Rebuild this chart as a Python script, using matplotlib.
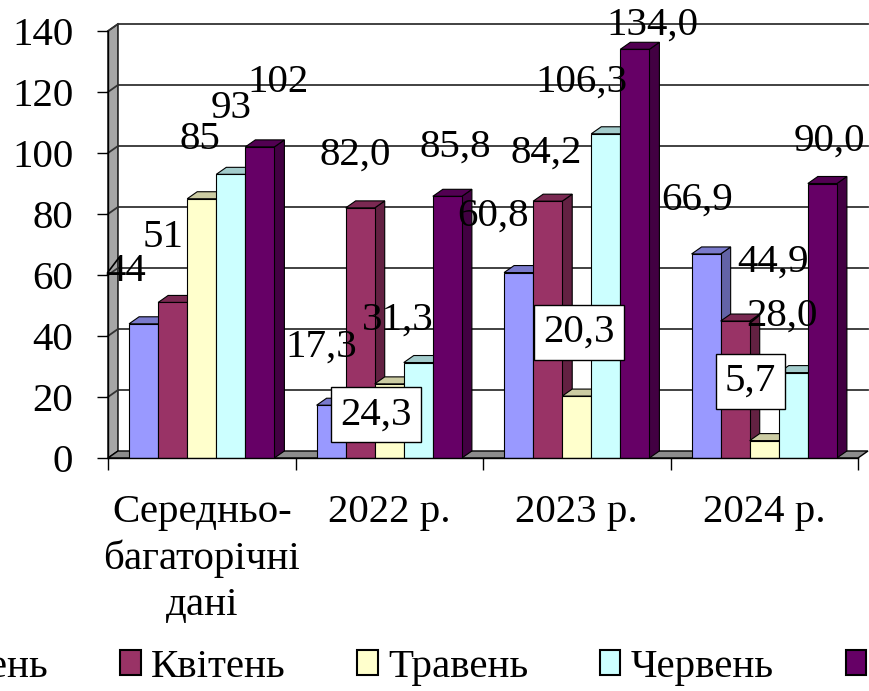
import matplotlib.pyplot as plt
from matplotlib.patches import Polygon, Patch
import matplotlib.colors as mcolors
import numpy as np

plt.rcParams['font.family'] = ['Liberation Serif', 'DejaVu Serif']

categories = ["Середньо-\nбагаторічні\nдані", "2022 р.", "2023 р.", "2024 р."]
months = ["Березень", "Квітень", "Травень", "Червень", "Липень"]
berezen = [44, 17.3, 60.8, 66.9]
kviten = [51, 82.0, 84.2, 44.9]
traven = [85, 24.3, 20.3, 5.7]
cherven = [93, 31.3, 106.3, 28.0]
lypen = [102, 85.8, 134.0, 90.0]
series = [berezen, kviten, traven, cherven, lypen]
decimals = [0, 1, 1, 1]  # long-term mean given as integers
yticks = [0, 20, 40, 60, 80, 100, 120, 140]

colors = ["#9999FF", "#993366", "#FFFFCC", "#CCFFFF", "#660066"]

# label placement (pixel offsets from top of front face), per series / category
label_off = [
    [(-18, 52), (-10, 58), (-26, 56), (-9, 54)],
    [(-10, 65), (-5, 53), (-2, 48), (38, 59)],
    [(-2, 59), (-13, -31), (2, 64), (-14, 59)],
    [(0, 66), (-20, 42), (-24, 52), (-11, 56)],
    [(18, 64), (8, 49), (17, 24), (7, 42)],
]
boxed = {(2, 1), (2, 2), (2, 3)}

FS = 29.5
W = 0.155      # bar width (category units)
DX = 0.0533    # 3d depth in x (data units)
DY = 2.3       # 3d depth in y (data units)


def shade(c, f):
    r, g, b = mcolors.to_rgb(c)
    return (r * f, g * f, b * f)


fig = plt.figure(figsize=(8.69, 6.91), dpi=100)
ax = fig.add_axes([108 / 869, 233 / 691, 750 / 869, 427 / 691])
ax.set_xlim(-0.5, 3.5)
ax.set_ylim(0, 140)
ax.set_facecolor('none')

# walls and floor
ax.add_patch(Polygon([(-0.5, 0), (-0.5 + DX, DY), (-0.5 + DX, 140 + DY), (-0.5, 140)],
                     closed=True, fc="#a6a6a6", ec="black", lw=1, clip_on=False, zorder=0.5))
ax.add_patch(Polygon([(-0.5, 0), (3.5, 0), (3.5 + DX, DY), (-0.5 + DX, DY)],
                     closed=True, fc="#8c8c8c", ec="black", lw=1, clip_on=False, zorder=0.6))
for v in yticks[1:]:
    ax.plot([-0.5 + DX, 3.5 + DX], [v + DY, v + DY], color="#333333", lw=1.3,
            clip_on=False, zorder=0.4)
    ax.plot([-0.5, -0.5 + DX], [v, v + DY], color="#333333", lw=1.3,
            clip_on=False, zorder=0.7)

x = np.arange(len(categories))
z = 2
for i, vals in enumerate(series):
    xs = x + (i - 2) * W
    col = colors[i]
    for xc, v in zip(xs, vals):
        x0, x1 = xc - W / 2, xc + W / 2
        ax.add_patch(Polygon([(x1, 0), (x1 + DX, DY), (x1 + DX, v + DY), (x1, v)],
                             closed=True, fc=shade(col, 0.65), ec="black", lw=0.8, zorder=z))
        ax.add_patch(Polygon([(x0, v), (x1, v), (x1 + DX, v + DY), (x0 + DX, v + DY)],
                             closed=True, fc=shade(col, 0.8), ec="black", lw=0.8, zorder=z))
    ax.bar(xs, vals, width=W, color=col, edgecolor="black", lw=0.8, zorder=z + 0.5)
    z += 1

# data labels
for i, vals in enumerate(series):
    xs = x + (i - 2) * W
    for j, (xc, v) in enumerate(zip(xs, vals)):
        txt = f"{v:.{decimals[j]}f}".replace(".", ",")
        bb = None
        if (i, j) in boxed:
            bb = dict(boxstyle="square,pad=0.22", fc="white", ec="black", lw=1)
        ax.annotate(txt, xy=(xc, v), xytext=label_off[i][j], textcoords="offset pixels",
                    ha="center", va="center", fontsize=FS, zorder=20, bbox=bb,
                    annotation_clip=False)

for s in ["top", "right"]:
    ax.spines[s].set_visible(False)
for s in ["left", "bottom"]:
    ax.spines[s].set_color("black")
    ax.spines[s].set_linewidth(1)
    ax.spines[s].set_zorder(30)

ax.set_yticks(yticks)
ax.tick_params(axis="y", length=8, width=1, pad=17, labelsize=FS)
ax.set_xticks(x, categories)
ax.set_xticks([-0.5, 0.5, 1.5, 2.5, 3.5], minor=True)
ax.tick_params(axis="x", which="major", length=0, pad=26, labelsize=FS)
ax.tick_params(axis="x", which="minor", length=8.6, width=1)
for lbl in ax.get_xticklabels():
    lbl.set_linespacing(1.3)

handles = [Patch(fc=c, ec="black", lw=1.5) for c in colors]
fig.legend(handles, months, loc="center", bbox_to_anchor=(0.5, 0.034), ncol=5,
           frameon=False, fontsize=FS, handlelength=0.5, handleheight=0.55,
           handletextpad=0.25, columnspacing=1.75, borderaxespad=0, borderpad=0)

fig.savefig("out.png", dpi=100)
